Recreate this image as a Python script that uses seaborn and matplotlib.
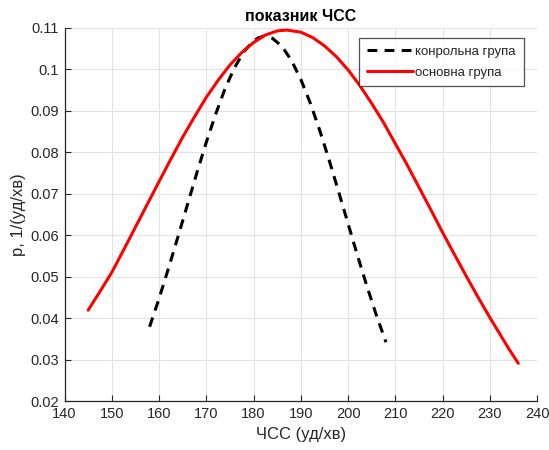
import matplotlib
matplotlib.use("Agg")
import matplotlib.pyplot as plt
import seaborn as sns
import pandas as pd

# Heart-rate (ЧСС) distribution for the control and main groups
control_hr = [158, 160, 162, 164, 166, 168, 170, 172, 174, 176, 178, 180, 181,
              182, 183, 184, 186, 188, 190, 192, 194, 196, 198, 200, 202, 204,
              206, 208]
control_p = [0.0380, 0.0448, 0.0521, 0.0597, 0.0674, 0.0751, 0.0825, 0.0893,
             0.0955, 0.1005, 0.1044, 0.1069, 0.1076, 0.1080, 0.1079, 0.1075,
             0.1056, 0.1022, 0.0976, 0.0919, 0.0853, 0.0781, 0.0705, 0.0628,
             0.0551, 0.0477, 0.0407, 0.0343]

main_hr = [145, 147.5, 150, 152.5, 155, 157.5, 160, 162.5, 165, 167.5, 170,
           172.5, 175, 177.5, 180, 182.5, 185, 187, 190, 192.5, 195, 197.5,
           200, 202.5, 205, 207.5, 210, 212.5, 215, 217.5, 220, 222.5, 225,
           227.5, 230, 232.5, 234, 236]
main_p = [0.0420, 0.0465, 0.0511, 0.0565, 0.0620, 0.0675, 0.0730, 0.0784,
          0.0837, 0.0886, 0.0933, 0.0974, 0.1011, 0.1041, 0.1065, 0.1083,
          0.1093, 0.1095, 0.1090, 0.1077, 0.1057, 0.1031, 0.0999, 0.0961,
          0.0918, 0.0872, 0.0821, 0.0770, 0.0716, 0.0662, 0.0607, 0.0554,
          0.0502, 0.0451, 0.0402, 0.0355, 0.0327, 0.0292]

x_ticks = [140, 150, 160, 170, 180, 190, 200, 210, 220, 230, 240]
y_ticks = [0.02, 0.03, 0.04, 0.05, 0.06, 0.07, 0.08, 0.09, 0.10, 0.11]
y_tick_labels = ["0.02", "0.03", "0.04", "0.05", "0.06", "0.07", "0.08",
                 "0.09", "0.1", "0.11"]

labels = ["конрольна група", "основна група"]

control_df = pd.DataFrame({"hr": control_hr, "p": control_p})
main_df = pd.DataFrame({"hr": main_hr, "p": main_p})

sns.set_theme(style="white")
plt.rcParams["font.family"] = ["Liberation Sans", "DejaVu Sans"]

fig = plt.figure(figsize=(5.49, 4.50), dpi=100)
ax = fig.add_axes([0.1175, 0.1078, 0.9785 - 0.1175, 0.9378 - 0.1078])

sns.lineplot(data=control_df, x="hr", y="p", ax=ax, color="black",
             linewidth=2.2, linestyle=(0, (3.2, 2.4)), sort=False,
             label=labels[0])
sns.lineplot(data=main_df, x="hr", y="p", ax=ax, color="#ff0000",
             linewidth=2.2, sort=False, label=labels[1])

ax.set_xlim(140, 240)
ax.set_ylim(0.02, 0.11)
ax.set_xticks(x_ticks)
ax.set_xticklabels([str(t) for t in x_ticks])
ax.set_yticks(y_ticks)
ax.set_yticklabels(y_tick_labels)

ax.grid(True, color="#e3e3e3", linewidth=0.8)
ax.set_axisbelow(True)
for side in ("top", "right"):
    ax.spines[side].set_visible(False)
for side in ("left", "bottom"):
    ax.spines[side].set_color("#262626")
    ax.spines[side].set_linewidth(0.9)

ax.tick_params(axis="both", direction="in", length=4, width=0.8,
               color="#262626", labelcolor="#262626", labelsize=10.5,
               bottom=True, left=True, pad=4)

ax.set_xlabel("ЧСС (уд/хв)", fontsize=12, color="#262626", labelpad=4)
ax.set_ylabel("p, 1/(уд/хв)", fontsize=12, color="#262626", labelpad=3)
ax.set_title("показник ЧСС", fontsize=11.5, fontweight="bold",
             color="black", pad=5)

leg = ax.legend(loc="upper right", bbox_to_anchor=(0.98, 0.985),
                fontsize=9.5, frameon=True, fancybox=False,
                handlelength=3.5, handletextpad=0.15, borderpad=0.6,
                labelspacing=0.65, borderaxespad=0.3)
leg.get_frame().set_edgecolor("#262626")
leg.get_frame().set_linewidth(0.9)
for txt in leg.get_texts():
    txt.set_color("#262626")

fig.savefig("out.png", dpi=100)
